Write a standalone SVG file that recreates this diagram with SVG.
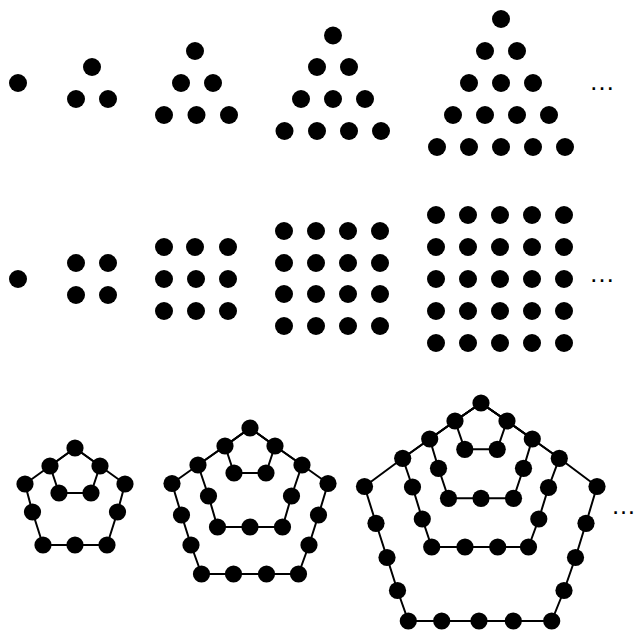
<svg xmlns="http://www.w3.org/2000/svg" xmlns:xlink="http://www.w3.org/1999/xlink" width="636" height="630" viewBox="0 0 636 630">
<style>
.ln{fill:none;stroke:#000;stroke-width:2;stroke-linejoin:round}
.el{font-family:"Liberation Sans",Arial,sans-serif;font-size:26px;fill:#000;text-anchor:middle}
</style>
<defs>
<circle id="d" r="9" fill="#000"/>
<circle id="p" r="8.6" fill="#000"/>
</defs>
<rect width="636" height="630" fill="#fff"/>
<g id="tri1"><use href="#d" x="18" y="83"/></g>
<g id="tri3"><use href="#d" x="92" y="67"/><use href="#d" x="76" y="99"/><use href="#d" x="108" y="99"/></g>
<g id="tri6"><use href="#d" x="195" y="51"/><use href="#d" x="181" y="83"/><use href="#d" x="213" y="83"/><use href="#d" x="164" y="115"/><use href="#d" x="196.5" y="115"/><use href="#d" x="229" y="115"/></g>
<g id="tri10"><use href="#d" x="333" y="35.5"/><use href="#d" x="317" y="67"/><use href="#d" x="349" y="67"/><use href="#d" x="301" y="99"/><use href="#d" x="333" y="99"/><use href="#d" x="365" y="99"/><use href="#d" x="284.5" y="131"/><use href="#d" x="317" y="131"/><use href="#d" x="349" y="131"/><use href="#d" x="381" y="131"/></g>
<g id="tri15"><use href="#d" x="501" y="19"/><use href="#d" x="485" y="51"/><use href="#d" x="517" y="51"/><use href="#d" x="469" y="83"/><use href="#d" x="501" y="83"/><use href="#d" x="533" y="83"/><use href="#d" x="453" y="115"/><use href="#d" x="485" y="115"/><use href="#d" x="517" y="115"/><use href="#d" x="549" y="115"/><use href="#d" x="437" y="147"/><use href="#d" x="469" y="147"/><use href="#d" x="501" y="147"/><use href="#d" x="533" y="147"/><use href="#d" x="565" y="147"/></g>
<text id="ell1" class="el" x="602" y="90">…</text>

<g id="sq1"><use href="#d" x="18" y="279"/></g>
<g id="sq4"><use href="#d" x="76" y="263"/><use href="#d" x="108" y="263"/><use href="#d" x="76" y="295"/><use href="#d" x="108" y="295"/></g>
<g id="sq9"><use href="#d" x="164" y="247"/><use href="#d" x="195" y="247"/><use href="#d" x="228" y="247"/><use href="#d" x="164" y="279"/><use href="#d" x="196" y="279"/><use href="#d" x="228" y="279"/><use href="#d" x="164" y="311"/><use href="#d" x="196" y="311"/><use href="#d" x="228" y="311"/></g>
<g id="sq16"><use href="#d" x="284" y="231"/><use href="#d" x="316" y="231"/><use href="#d" x="348" y="231"/><use href="#d" x="380" y="231"/><use href="#d" x="284" y="263"/><use href="#d" x="316" y="263"/><use href="#d" x="348" y="263"/><use href="#d" x="380" y="263"/><use href="#d" x="284" y="294"/><use href="#d" x="316" y="294"/><use href="#d" x="348" y="294"/><use href="#d" x="380" y="294"/><use href="#d" x="284" y="326"/><use href="#d" x="316" y="326"/><use href="#d" x="348" y="326"/><use href="#d" x="380" y="326"/></g>
<g id="sq25"><use href="#d" x="436" y="215"/><use href="#d" x="468" y="215"/><use href="#d" x="500" y="215"/><use href="#d" x="532" y="215"/><use href="#d" x="564" y="215"/><use href="#d" x="436" y="247"/><use href="#d" x="468" y="247"/><use href="#d" x="500" y="247"/><use href="#d" x="532" y="247"/><use href="#d" x="564" y="247"/><use href="#d" x="436" y="279"/><use href="#d" x="468" y="279"/><use href="#d" x="500" y="279"/><use href="#d" x="532" y="279"/><use href="#d" x="564" y="279"/><use href="#d" x="436" y="311"/><use href="#d" x="468" y="311"/><use href="#d" x="500" y="311"/><use href="#d" x="532" y="311"/><use href="#d" x="564" y="311"/><use href="#d" x="436" y="343"/><use href="#d" x="468" y="343"/><use href="#d" x="500" y="343"/><use href="#d" x="532" y="343"/><use href="#d" x="564" y="343"/></g>
<text id="ell2" class="el" x="602" y="281.5">…</text>

<g id="connectors">
<polygon class="ln" points="75,448 50,466 59,493 91,493 100,466"/>
<polygon class="ln" points="75,448 50,466 25,484 32.5,512 43,545 75,545 107,545 117.5,512 125,484 100,466"/>
<polygon class="ln" points="250,428 225,446 234,473 266,473 275,446"/>
<polygon class="ln" points="250,428 225,446 198,465 208.5,496 217.5,527 250,527 282.5,527 291.5,496 302,465 275,446"/>
<polygon class="ln" points="250,428 225,446 198,465 172,483.5 181.5,515 191,545 201.5,574 233.5,574 266.5,574 298.5,574 309,545 318.5,515 328,483.5 302,465 275,446"/>
<polygon class="ln" points="481,403 455,421 464.8,449.3 497.2,449.3 507,421"/>
<polygon class="ln" points="481,403 455,421 429.7,439 438.5,468.3 448.5,498.3 481,498.3 513.5,498.3 523.5,468.3 532.3,439 507,421"/>
<polygon class="ln" points="481,403 455,421 429.7,439 402.7,458.3 412.5,487 422.3,519 431.7,547 465,547 497.7,547 528.5,547 538.8,519 548.5,487.5 559.3,458.3 532.3,439 507,421"/>
<polygon class="ln" points="481,403 455,421 429.7,439 402.7,458.3 364.5,486.5 376,523.3 387,557.5 397.5,590.5 408.3,621 441.7,621 479,621 513.3,621 551.7,621 564,590.5 575.5,557.5 586,523.3 597,486.5 559.3,458.3 532.3,439 507,421"/>
</g>

<g id="pent12"><use href="#p" x="75" y="448"/><use href="#p" x="50" y="466"/><use href="#p" x="100" y="466"/><use href="#p" x="25" y="484"/><use href="#p" x="125" y="484"/><use href="#p" x="59" y="493"/><use href="#p" x="91" y="493"/><use href="#p" x="32.5" y="512"/><use href="#p" x="117.5" y="512"/><use href="#p" x="43" y="545"/><use href="#p" x="75" y="545"/><use href="#p" x="107" y="545"/></g>
<g id="pent22"><use href="#p" x="250" y="428"/><use href="#p" x="225" y="446"/><use href="#p" x="275" y="446"/><use href="#p" x="198" y="465"/><use href="#p" x="302" y="465"/><use href="#p" x="172" y="483.5"/><use href="#p" x="328" y="483.5"/><use href="#p" x="234" y="473"/><use href="#p" x="266" y="473"/><use href="#p" x="208.5" y="496"/><use href="#p" x="291.5" y="496"/><use href="#p" x="217.5" y="527"/><use href="#p" x="250" y="527"/><use href="#p" x="282.5" y="527"/><use href="#p" x="181.5" y="515"/><use href="#p" x="318.5" y="515"/><use href="#p" x="191" y="545"/><use href="#p" x="309" y="545"/><use href="#p" x="201.5" y="574"/><use href="#p" x="233.5" y="574"/><use href="#p" x="266.5" y="574"/><use href="#p" x="298.5" y="574"/></g>
<g id="pent35"><use href="#p" x="481" y="403"/><use href="#p" x="455" y="421"/><use href="#p" x="507" y="421"/><use href="#p" x="429.7" y="439"/><use href="#p" x="532.3" y="439"/><use href="#p" x="402.7" y="458.3"/><use href="#p" x="559.3" y="458.3"/><use href="#p" x="364.5" y="486.5"/><use href="#p" x="597" y="486.5"/><use href="#p" x="464.8" y="449.3"/><use href="#p" x="497.2" y="449.3"/><use href="#p" x="438.5" y="468.3"/><use href="#p" x="523.5" y="468.3"/><use href="#p" x="448.5" y="498.3"/><use href="#p" x="481" y="498.3"/><use href="#p" x="513.5" y="498.3"/><use href="#p" x="412.5" y="487"/><use href="#p" x="548.5" y="487.5"/><use href="#p" x="422.3" y="519"/><use href="#p" x="538.8" y="519"/><use href="#p" x="431.7" y="547"/><use href="#p" x="465" y="547"/><use href="#p" x="497.7" y="547"/><use href="#p" x="528.5" y="547"/><use href="#p" x="376" y="523.3"/><use href="#p" x="586" y="523.3"/><use href="#p" x="387" y="557.5"/><use href="#p" x="575.5" y="557.5"/><use href="#p" x="397.5" y="590.5"/><use href="#p" x="564" y="590.5"/><use href="#p" x="408.3" y="621"/><use href="#p" x="441.7" y="621"/><use href="#p" x="479" y="621"/><use href="#p" x="513.3" y="621"/><use href="#p" x="551.7" y="621"/></g>
<text id="ell3" class="el" x="636" y="513.5" style="font-size:25px;text-anchor:end">…</text>
</svg>
